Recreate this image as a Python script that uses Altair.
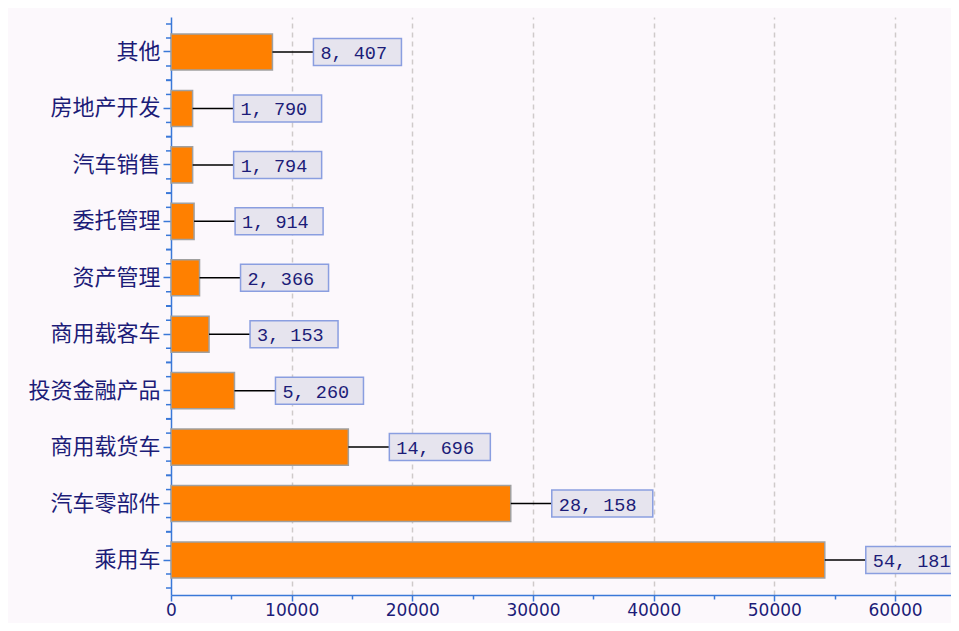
import altair as alt
import pandas as pd

categories = ["其他", "房地产开发", "汽车销售", "委托管理", "资产管理",
              "商用载客车", "投资金融产品", "商用载货车", "汽车零部件", "乘用车"]
values = [8407, 1790, 1794, 1914, 2366, 3153, 5260, 14696, 28158, 54181]
x_tick_values = list(range(0, 62501, 2500))

df = pd.DataFrame({"cat": categories, "value": values})

BLUE = "#3a78d8"
NAVY = "#1c1c78"
BG = "#fcf8fc"
W, H = 780, 578
XMAX = 64640

y_enc = alt.Y(
    "cat:N", sort=categories,
    scale=alt.Scale(paddingInner=0.36, paddingOuter=0.3),
    axis=alt.Axis(title=None, labelFont="Noto Sans CJK SC", labelFontSize=22,
                  labelColor=NAVY, tickColor=BLUE, domainColor=BLUE, tickSize=8,
                  tickWidth=1.5, domainWidth=1.5, labelPadding=3, grid=False),
)
x_enc = alt.X(
    "value:Q",
    scale=alt.Scale(domain=[0, XMAX], nice=False, zero=True),
    axis=alt.Axis(
        title=None, values=x_tick_values,
        labelExpr="datum.value % 10000 === 0 ? '' + datum.value : ''",
        labelFont="DejaVu Sans", labelFontSize=17, labelColor=NAVY,
        labelFlush=False, labelOverlap=False, labelPadding=1,
        domainColor=BLUE, domainWidth=1.5, tickColor=BLUE, tickWidth=1.5,
        tickSize=alt.condition("datum.value % 10000 === 0", alt.value(6), alt.value(4)),
        grid=True, gridColor="#cfcaca", gridDash=[5, 4], gridWidth=1.5,
        gridOpacity=alt.condition("datum.value % 10000 === 0 && datum.value > 0", alt.value(1), alt.value(0)),
    ),
)

base = alt.Chart(df)

bars = base.mark_bar(color="#ff8000", stroke="#a0a0a0", strokeWidth=1.5).encode(
    x=x_enc, y=y_enc
)

connector = base.mark_rule(color="black", strokeWidth=1.5, x2Offset=41).encode(
    x="value:Q", x2="value:Q", y=alt.Y("cat:N", sort=categories)
)

box_short = base.transform_filter("datum.value < 10000").mark_bar(
    fill="#e6e4ee", stroke="#8a9ee0", strokeWidth=1.5, size=27, xOffset=41, x2Offset=129
).encode(x="value:Q", x2="value:Q", y=alt.Y("cat:N", sort=categories))

box_long = base.transform_filter("datum.value >= 10000").mark_bar(
    fill="#e6e4ee", stroke="#8a9ee0", strokeWidth=1.5, size=27, xOffset=41, x2Offset=142
).encode(x="value:Q", x2="value:Q", y=alt.Y("cat:N", sort=categories))

labels = base.transform_calculate(
    label="replace(format(datum.value, ','), ',', ', ')"
).mark_text(align="left", baseline="middle", dx=48, dy=1, font="Liberation Mono",
            fontSize=18.5, color=NAVY).encode(
    x="value:Q", y=alt.Y("cat:N", sort=categories), text="label:N"
)

minor_ticks = [
    base.mark_rule(color=BLUE, strokeWidth=1.5, yOffset=off).encode(
        x=alt.value(-5), x2=alt.value(0), y=alt.Y("cat:N", sort=categories)
    )
    for off in (-28, -14, 14, 28)
]

chart = alt.layer(bars, connector, box_short, box_long, labels, *minor_ticks).properties(
    width=W, height=H, background=BG,
    padding={"left": 163, "top": 9, "right": 0, "bottom": 28},
    autosize=alt.AutoSizeParams(type="none"),
).configure_view(stroke=None)

chart.save("out.html", embed_options={"renderer": "svg", "actions": False})
